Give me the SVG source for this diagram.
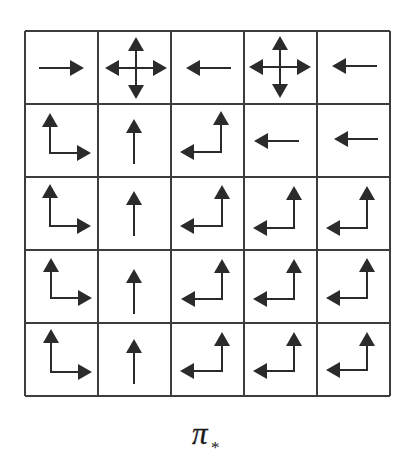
<svg xmlns="http://www.w3.org/2000/svg" width="408" height="468" viewBox="0 0 408 468">
<defs>
<marker id="ah" viewBox="0 0 14 16" refX="4" refY="8" markerWidth="14" markerHeight="16" markerUnits="userSpaceOnUse" orient="auto-start-reverse">
<path d="M0 0L14 8L0 16Z" fill="#2b2b2b"/>
</marker>
<style>
.g{stroke:#3c3c3c;stroke-width:2;fill:none}
.a{stroke:#2b2b2b;stroke-width:2;fill:none;marker-end:url(#ah)}
.b{stroke:#2b2b2b;stroke-width:2;fill:none;marker-start:url(#ah);marker-end:url(#ah)}
.t{font-family:"Liberation Serif",serif;fill:#1a1a1a}
</style>
</defs>
<rect width="408" height="468" fill="#fff"/>
<g id="grid" class="g">
<path d="M25 31V396M98 31V396M171 31V396M244 31V396M317 31V396M390 31V396"/>
<path d="M25 31H390M25 104H390M25 177H390M25 250H390M25 323H390M25 396H390"/>
</g>
<g id="cell-0-0"><path class="a" d="M39 68H74"/></g>
<g id="cell-0-1"><path class="a" d="M136 68H115"/><path class="a" d="M136 68H157"/><path class="a" d="M136 68V47"/><path class="a" d="M136 68V89"/></g>
<g id="cell-0-2"><path class="a" d="M231 68H196"/></g>
<g id="cell-0-3"><path class="a" d="M280 67H259"/><path class="a" d="M280 67H301"/><path class="a" d="M280 67V46"/><path class="a" d="M280 67V88"/></g>
<g id="cell-0-4"><path class="a" d="M377 66H342"/></g>
<g id="cell-1-0"><path class="b" d="M50 123V153H81"/></g>
<g id="cell-1-1"><path class="a" d="M134 164V129"/></g>
<g id="cell-1-2"><path class="b" d="M221 121V152H190"/></g>
<g id="cell-1-3"><path class="a" d="M299 141H264"/></g>
<g id="cell-1-4"><path class="a" d="M378 139H344"/></g>
<g id="cell-2-0"><path class="b" d="M50 194V226H81"/></g>
<g id="cell-2-1"><path class="a" d="M134 236V201"/></g>
<g id="cell-2-2"><path class="b" d="M222 195V226H190"/></g>
<g id="cell-2-3"><path class="b" d="M294 196V228H263"/></g>
<g id="cell-2-4"><path class="b" d="M367 196V228H336"/></g>
<g id="cell-3-0"><path class="b" d="M51 268V298H82"/></g>
<g id="cell-3-1"><path class="a" d="M134 314V279"/></g>
<g id="cell-3-2"><path class="b" d="M222 269V299H191"/></g>
<g id="cell-3-3"><path class="b" d="M294 269V299H263"/></g>
<g id="cell-3-4"><path class="b" d="M367 268V298H336"/></g>
<g id="cell-4-0"><path class="b" d="M51 339V372H82"/></g>
<g id="cell-4-1"><path class="a" d="M134 384V349"/></g>
<g id="cell-4-2"><path class="b" d="M222 342V371H190"/></g>
<g id="cell-4-3"><path class="b" d="M294 342V371H263"/></g>
<g id="cell-4-4"><path class="b" d="M367 342V370H336"/></g>
<g id="caption">
<text class="t" x="192" y="444" font-size="31" font-style="italic" stroke="#1a1a1a" stroke-width="0.3">π</text>
<text class="t" x="211" y="453" font-size="17">*</text>
</g>
</svg>
